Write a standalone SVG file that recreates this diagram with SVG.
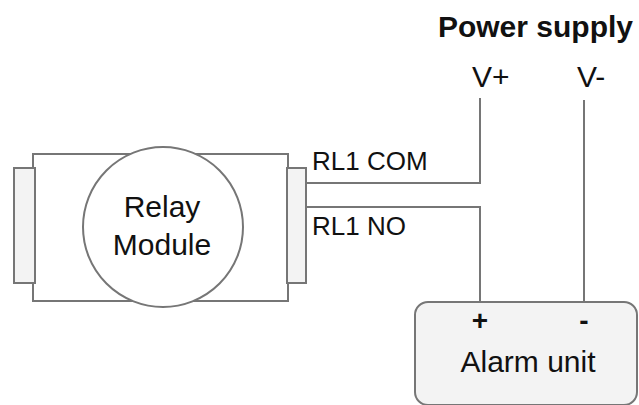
<svg xmlns="http://www.w3.org/2000/svg" width="639" height="405" viewBox="0 0 639 405">
  <style>
    .shape { stroke: #767676; stroke-width: 2; }
    .wire { fill: none; stroke: #767676; stroke-width: 2; }
    .txt { font-family: "Liberation Sans", Arial, sans-serif; fill: #111; }
  </style>
  <rect x="0" y="0" width="639" height="405" fill="#ffffff"/>
  <g id="relay-module">
    <rect class="shape" x="33" y="154" width="255" height="147" fill="#ffffff"/>
    <rect class="shape" x="14" y="168" width="21" height="115" fill="#f3f3f3"/>
    <rect class="shape" x="287" y="168" width="19" height="115" fill="#f3f3f3"/>
    <circle class="shape" cx="163" cy="227" r="80" fill="#ffffff"/>
    <text class="txt" x="162" y="217" font-size="30" text-anchor="middle">Relay</text>
    <text class="txt" x="162" y="255" font-size="30" text-anchor="middle">Module</text>
  </g>
  <g id="power-supply">
    <text class="txt" x="633" y="37" font-size="30" font-weight="bold" text-anchor="end">Power supply</text>
    <text class="txt" x="472" y="87" font-size="30">V+</text>
    <text class="txt" x="577" y="87" font-size="30">V-</text>
  </g>
  <g id="alarm-unit">
    <rect class="shape" x="415" y="302" width="222" height="103" rx="13" ry="13" fill="#f3f3f3"/>
    <text class="txt" x="480" y="330" font-size="28" font-weight="bold" text-anchor="middle">+</text>
    <text class="txt" x="584" y="330" font-size="28" font-weight="bold" text-anchor="middle">-</text>
    <text class="txt" x="528" y="372" font-size="30" text-anchor="middle">Alarm unit</text>
  </g>
  <g id="connectors">
    <polyline class="wire" points="306,183 480,183 480,98"/>
    <polyline class="wire" points="306,207 480,207 480,302"/>
    <line class="wire" x1="584" y1="100" x2="584" y2="302"/>
    <text class="txt" x="312" y="170" font-size="26">RL1 COM</text>
    <text class="txt" x="312" y="235" font-size="26">RL1 NO</text>
  </g>
</svg>
